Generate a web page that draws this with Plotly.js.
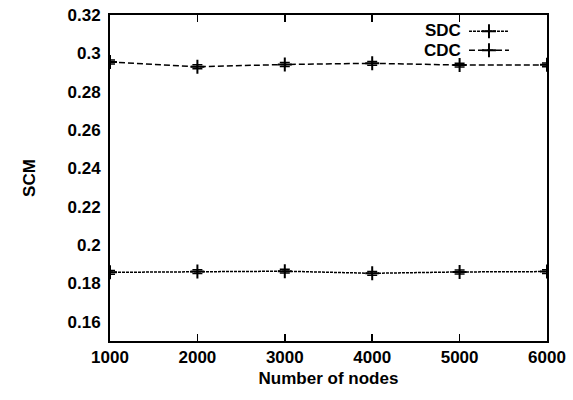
<!DOCTYPE html>
<html>
<head>
<meta charset="utf-8">
<script src="https://cdn.plot.ly/plotly-3.0.1.min.js"></script>
<style>html,body{margin:0;padding:0;background:#fff;}#chart{width:573px;height:400px;}</style>
</head>
<body>
<div id="chart"></div>
<script>
const nodes = [1000, 2000, 3000, 4000, 5000, 6000];
const sdc = [0.1858, 0.1862, 0.1864, 0.1853, 0.1860, 0.1862];
const sdcErr = [0.0010, 0.0010, 0.0010, 0.0010, 0.0010, 0.0010];
const cdc = [0.2955, 0.2930, 0.2942, 0.2948, 0.2939, 0.2940];
const cdcErr = [0.0010, 0.0010, 0.0010, 0.0010, 0.0010, 0.0010];
const seriesNames = ['SDC', 'CDC'];
const xTicks = [1000, 2000, 3000, 4000, 5000, 6000];
const yTicks = [0.16, 0.18, 0.2, 0.22, 0.24, 0.26, 0.28, 0.3, 0.32];
const yTickLabels = ['0.16', '0.18', '0.2', '0.22', '0.24', '0.26', '0.28', '0.3', '0.32'];

const fam = 'Liberation Sans, Arial, sans-serif';

const traces = [
  {
    x: nodes, y: sdc, name: seriesNames[0], type: 'scatter', mode: 'lines+markers',
    line: {color: '#000', width: 1.5, dash: '3px,1px'},
    marker: {symbol: 'cross-thin', size: 10, line: {color: '#000', width: 2}},
    error_y: {type: 'data', array: sdcErr, visible: true, color: '#000', thickness: 1.5, width: 5}
  },
  {
    x: nodes, y: cdc, name: seriesNames[1], type: 'scatter', mode: 'lines+markers',
    line: {color: '#000', width: 1.5, dash: '6px,3px'},
    marker: {symbol: 'cross-thin', size: 10, line: {color: '#000', width: 2}},
    error_y: {type: 'data', array: cdcErr, visible: true, color: '#000', thickness: 1.5, width: 5}
  }
];

const layout = {
  width: 573, height: 400,
  margin: {l: 110, r: 26, t: 15, b: 59},
  paper_bgcolor: '#fff', plot_bgcolor: '#fff',
  font: {family: fam, size: 15, color: '#000'},
  showlegend: true,
  legend: {
    x: 0.81, y: 0.995, xanchor: 'left', yanchor: 'top',
    bgcolor: 'rgba(0,0,0,0)', borderwidth: 0,
    font: {family: fam, size: 12, color: 'rgba(0,0,0,0)'},
    tracegroupgap: 0, itemwidth: 40
  },
  annotations: [
    {xref: 'paper', yref: 'paper', x: 0.808, y: 0.953, xanchor: 'right', yanchor: 'middle',
     text: '<b>' + seriesNames[0] + '</b>', showarrow: false, font: {family: fam, size: 17, color: '#000'}},
    {xref: 'paper', yref: 'paper', x: 0.808, y: 0.892, xanchor: 'right', yanchor: 'middle',
     text: '<b>' + seriesNames[1] + '</b>', showarrow: false, font: {family: fam, size: 17, color: '#000'}}
  ],
  xaxis: {
    range: [1000, 6000], tickvals: xTicks, ticktext: xTicks.map(String),
    ticks: 'inside', ticklen: 7, tickwidth: 1.5, tickcolor: '#000',
    showline: true, linecolor: '#000', linewidth: 2, mirror: 'ticks',
    showgrid: false, zeroline: false,
    tickfont: {family: fam, size: 17, color: '#000', weight: 'bold'},
    title: {text: '<b>Number of nodes</b>', font: {family: fam, size: 17, color: '#000'}, standoff: 6}
  },
  yaxis: {
    range: [0.15, 0.32], tickvals: yTicks, ticktext: yTickLabels,
    ticks: '', showline: true, linecolor: '#000', linewidth: 2, mirror: true,
    showgrid: false, zeroline: false, ticklabelstandoff: 4,
    tickfont: {family: fam, size: 17, color: '#000', weight: 'bold'},
    title: {text: '<b>SCM</b>', font: {family: fam, size: 17, color: '#000'}, standoff: 28}
  }
};

Plotly.newPlot('chart', traces, layout, {staticPlot: true, displayModeBar: false});
</script>
</body>
</html>
